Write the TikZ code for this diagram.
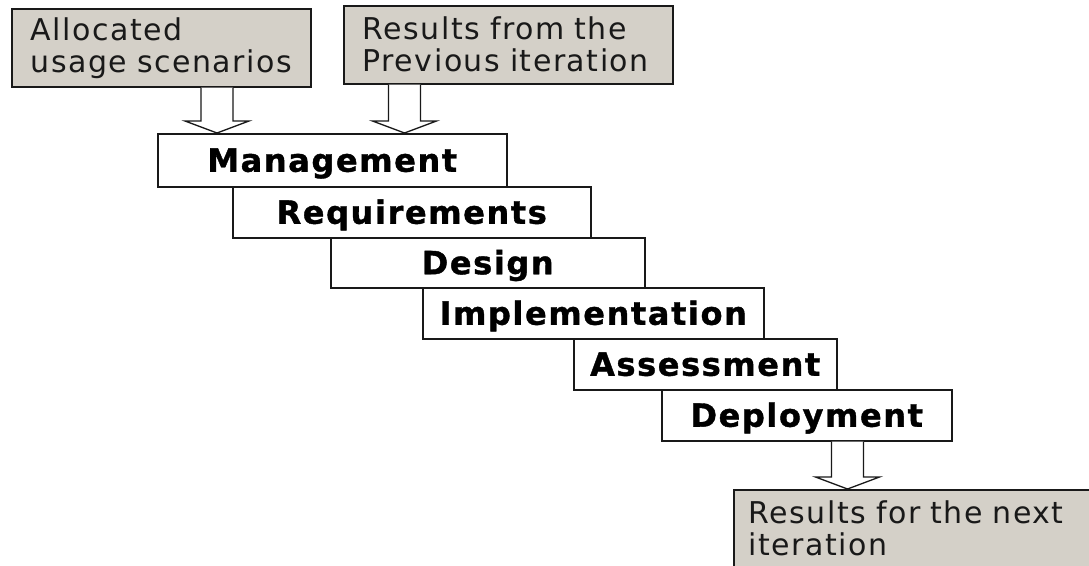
\documentclass[tikz,border=0pt]{standalone}
\usepackage{fontspec}
\setmainfont{DejaVu Sans}
\newfontfamily\stepfont[LetterSpace=5, BoldFeatures={FakeBold=1.2}]{DejaVu Sans}
\newfontfamily\notefont[LetterSpace=5]{DejaVu Sans}
\usetikzlibrary{calc}
\definecolor{panelgray}{RGB}{212,208,200}
\definecolor{inkc}{RGB}{25,25,25}
\tikzset{
  phase/.style={draw=inkc, line width=1.5pt, fill=white, anchor=north west,
    inner sep=0pt, text height=23pt, text depth=0pt, text=black,
    font=\stepfont\bfseries\fontsize{32}{32}\selectfont},
  note/.style={draw=inkc, line width=1.5pt, fill=panelgray, anchor=north west,
    align=left, inner ysep=0pt, text=inkc,
    font=\notefont\fontsize{30}{32}\selectfont},
  blockarr/.style={draw=inkc, line width=1.3pt, fill=white, line join=miter}
}
\newcommand\blockarrow[2]{%
  \draw[blockarr] let \p1=(#1), \p2=(#2) in
    (\x1-16pt,\y1) -- (\x1-16pt,\y2+12pt) -- (\x1-32pt,\y2+12pt) -- (\x2,\y2)
    -- (\x1+32pt,\y2+12pt) -- (\x1+16pt,\y2+12pt) -- (\x1+16pt,\y1);}
\begin{document}
\begin{tikzpicture}[x=1pt,y=-1pt]
\clip (0,0) rectangle (1089,565);
\fill[white] (0,0) rectangle (1089,565);

% input / output notes
\node[note, inner xsep=19pt, text width=261pt, minimum height=78pt] (alloc) at (11,8)
  {\mbox{Allocated}\\\mbox{usage scenarios}};
\node[note, inner xsep=19pt, text width=291pt, minimum height=78pt] (prev) at (343,5)
  {\mbox{Results from the}\\\mbox{Previous iteration}};
\node[note, inner xsep=15pt, inner ysep=11pt, text width=340pt] (next) at (733,489)
  {\mbox{Results for the next}\\\mbox{iteration}\rule[-40pt]{0pt}{40pt}};

% phases
\node[phase, minimum width=349pt, minimum height=53pt] (mgmt) at (157,133) {Management};
\node[phase, minimum width=358pt, minimum height=51pt] (req)  at (232,186) {Requirements};
\node[phase, minimum width=314pt, minimum height=50pt] (des)  at (330,237) {Design};
\node[phase, minimum width=341pt, minimum height=51pt] (impl) at (422,287) {Implementation};
\node[phase, minimum width=263pt, minimum height=51pt] (assess) at (573,338) {Assessment};
\node[phase, minimum width=290pt, minimum height=51pt] (deploy) at (661,389) {Deployment};

% block arrows
\coordinate (a1top) at (217,0 |- alloc.south);
\coordinate (a1tip) at (217,0 |- mgmt.north);
\coordinate (a2top) at (404.5,0 |- prev.south);
\coordinate (a2tip) at (404.5,0 |- mgmt.north);
\coordinate (a3top) at (847.5,0 |- deploy.south);
\coordinate (a3tip) at (847.5,0 |- next.north);
\blockarrow{a1top}{a1tip}
\blockarrow{a2top}{a2tip}
\blockarrow{a3top}{a3tip}
\end{tikzpicture}
\end{document}
